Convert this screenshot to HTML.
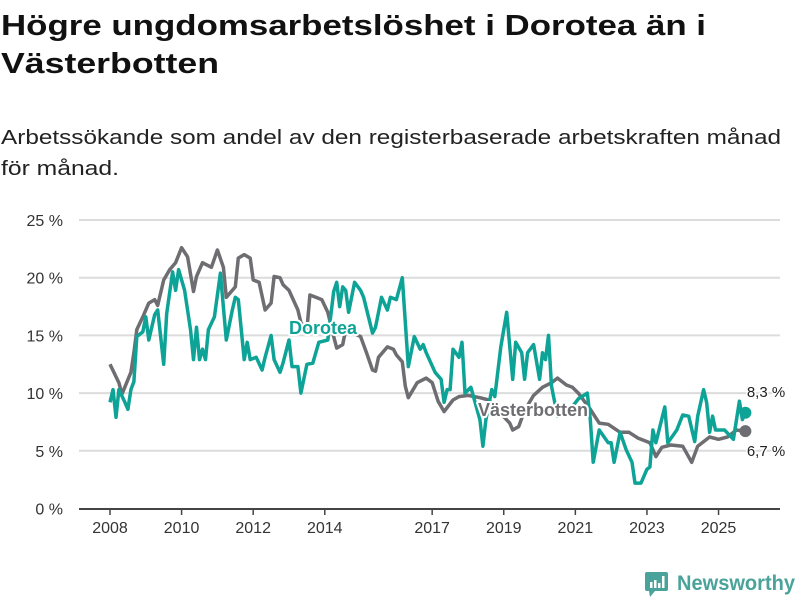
<!DOCTYPE html>
<html><head><meta charset="utf-8"><style>
html,body{margin:0;padding:0;background:#fff;}
svg{display:block;font-family:"Liberation Sans",sans-serif;}
</style></head><body>
<svg id="chart" width="800" height="600" viewBox="0 0 800 600" xmlns="http://www.w3.org/2000/svg">
<text x="1" y="35" font-size="29" font-weight="bold" fill="#111" textLength="705" lengthAdjust="spacingAndGlyphs">Högre ungdomsarbetslöshet i Dorotea än i</text>
<text x="1" y="73" font-size="29" font-weight="bold" fill="#111" textLength="218" lengthAdjust="spacingAndGlyphs">Västerbotten</text>
<text x="1" y="144" font-size="20" fill="#222" textLength="780" lengthAdjust="spacingAndGlyphs">Arbetssökande som andel av den registerbaserade arbetskraften månad</text>
<text x="1" y="175" font-size="20" fill="#222" textLength="118" lengthAdjust="spacingAndGlyphs">för månad.</text>
<g id="grid"></g>
<g id="yticks"></g>
<g id="xticks"></g>
<g id="series"></g>
<g id="labels"></g>
<g transform="translate(645,572)">
<rect x="0" y="0" width="23" height="19" rx="2" fill="#4aa39a"/>
<polygon points="4,19 10,19 5,25" fill="#4aa39a"/>
<rect x="5" y="10" width="2.5" height="6" fill="#fff"/><rect x="9" y="8" width="2.5" height="8" fill="#fff"/><rect x="13" y="11" width="2.5" height="5" fill="#fff"/><rect x="17" y="4" width="2.5" height="12" fill="#fff"/>
<text x="32" y="18" font-size="21" font-weight="bold" fill="#4aa39a" textLength="118" lengthAdjust="spacingAndGlyphs">Newsworthy</text>
</g>
</svg>
<script>
const yTicks = [0,5,10,15,20,25];
const xTickYears = [2008,2010,2012,2014,2017,2019,2021,2023,2025];
const vbMonths = [0,3,4,7,8,9,11,13,15,16,18,20,22,24,26,28,29,31,34,36,38,39,42,43,45,47,48,50,52,54,55,57,58,60,63,64,66,67,69,71,73,75,76,78,79,84,86,88,89,90,93,95,96,98,99,100,103,106,108,110,112,115,117,120,124,127,130,134,135,137,139,142,145,148,150,153,155,157,161,164,167,171,174,177,181,183,185,188,192,195,197,201,204,207,210,213];
const vbValues = [12.5,10.9,9.9,11.8,13.5,15.5,16.6,17.8,18.1,17.6,19.8,20.7,21.3,22.6,21.8,18.8,20.1,21.3,20.9,22.4,20.9,18.3,19.2,21.7,22,21.7,19.8,19.6,17.2,17.8,20.1,20,19.4,18.9,17.2,16.1,15.5,18.5,18.3,18.1,17,14.9,13.9,14.2,15.5,14.9,13.5,12,11.9,13.1,14,13.8,13.3,12.7,10.6,9.6,10.9,11.3,10.9,9.3,8.4,9.4,9.7,9.8,9.6,9.4,8.5,7.4,6.8,7.1,8.5,9.8,10.5,10.9,11.3,10.7,10.5,10,8.6,7.4,7.3,6.6,6.6,6.1,5.7,4.5,5.3,5.5,5.4,4,5.4,6.2,6,6.2,6.8,6.7];
const dorMonths = [0,1,2,3,5,6,7,8,9,11,12,13,15,16,18,19,21,22,23,25,27,28,29,30,31,32,33,35,37,39,41,42,43,45,46,47,49,51,52,54,55,57,58,60,61,63,64,66,68,70,73,75,76,77,78,79,80,82,84,85,88,89,91,93,94,96,98,100,102,104,105,106,109,111,112,113,114,115,117,118,119,121,124,125,126,128,129,131,133,135,136,138,139,140,142,144,145,146,147,148,150,154,157,160,161,162,164,167,168,169,171,173,175,176,178,180,181,182,183,186,187,190,192,194,196,197,199,200,201,202,203,206,209,211,212,213];
const dorValues = [9.2,10.3,7.9,10.3,9.2,8.6,10.3,11,14.9,15.3,16.6,14.6,16.8,17.2,12.5,16.9,20.5,18.9,20.7,18.9,15.5,12.9,15.7,12.9,13.8,12.9,15.5,16.6,20.4,14.6,17.2,18.3,18.1,12.9,14.4,12.9,13.1,12,13.1,15,12.9,11.8,12.6,14.6,12.3,12.3,10,12.5,12.6,14.4,14.6,18.8,19.6,17.5,19.2,18.9,17,19.6,18.9,18.3,15.2,15.7,18.3,17.2,18.3,18.1,20,12.3,14.9,13.8,14.2,13.5,11.8,11.2,9.2,10.3,10.3,13.8,13.1,14.4,10,10.5,7.7,5.4,7.7,10.3,9.7,14,17,11.2,14.4,13.5,11.2,13.5,14.2,11.2,13.5,12.9,15,10.6,8,8.5,9.5,10,7.7,4,6.8,5.7,5.7,4,6.6,5.1,4,2.2,2.2,3.4,3.6,6.8,5.7,8.8,5.7,6.8,8.1,8,5.8,8,10.3,9.2,6.6,8,6.8,6.8,6,9.3,7.7,8.3];

const NS='http://www.w3.org/2000/svg';
const x = m => 110 + m*2.983;
const xYear = yr => x((yr-2008)*12);
const y = v => 508.5 - v*11.54;
function mk(tag, parent, attrs){const e=document.createElementNS(NS,tag);for(const k in attrs)e.setAttribute(k,attrs[k]);parent.appendChild(e);return e;}
const grid=document.getElementById('grid'), yt=document.getElementById('yticks'), xt=document.getElementById('xticks');
yTicks.forEach(v=>{
  if(v>0){const l=mk('line',grid,{x1:79,x2:780,y1:y(v),y2:y(v),stroke:'#dcdcdc','stroke-width':2});
  
  }
  const t=mk('text',yt,{x:63,y:y(v)+6,'text-anchor':'end','font-size':16,fill:'#333'});
  
  
  t.textContent=v+' %';
});
const ax=mk('line',xt,{x1:79,x2:780,y1:509,y2:509,stroke:'#444','stroke-width':2});


xTickYears.forEach(yr=>{
  const tk=mk('line',xt,{x1:xYear(yr),x2:xYear(yr),y1:509,y2:515,stroke:'#444','stroke-width':1.5});
  
  
  const t=mk('text',xt,{x:xYear(yr),y:533,'text-anchor':'middle','font-size':16,fill:'#333'});
  
  
  t.textContent=yr;
});
const ser=document.getElementById('series');
function line(ms,vs,color,name){
  const d=ms.map((m,i)=>(i?'L':'M')+x(m).toFixed(1)+','+y(vs[i]).toFixed(1)).join('');
  const p=mk('path',ser,{d:d,fill:'none',stroke:color,'stroke-width':3.5,'stroke-linejoin':'round'});
  
  
  const n=ms.length-1;
  const c=mk('circle',ser,{cx:x(ms[n]),cy:y(vs[n]),r:6,fill:color});
  
  
}
line(vbMonths,vbValues,'#6d6d72','vasterbotten-line');
line(dorMonths,dorValues,'#0ea397','dorotea-line');
const lab=document.getElementById('labels');
function label(txt,xx,yy,color,name,size,bold,anchor){
  const t=mk('text',lab,{x:xx,y:yy,'font-size':size,'font-weight':bold?'bold':'normal',fill:color,'text-anchor':anchor||'middle',stroke:'#fff','stroke-width':bold?4:3,'paint-order':'stroke','stroke-linejoin':'round'});
  
  
  t.textContent=txt;
}
label('Dorotea',323,334,'#0ea397','dorotea-label',18,true);
label('Västerbotten',533,416,'#6d6d72','vasterbotten-label',18,true);
const dl=dorValues[dorValues.length-1], vl=vbValues[vbValues.length-1];
label(String(dl).replace('.',',')+' %',766,397,'#222','dorotea-end-value',15,false);
label(String(vl).replace('.',',')+' %',766,456,'#222','vasterbotten-end-value',15,false);
</script>
</body></html>
